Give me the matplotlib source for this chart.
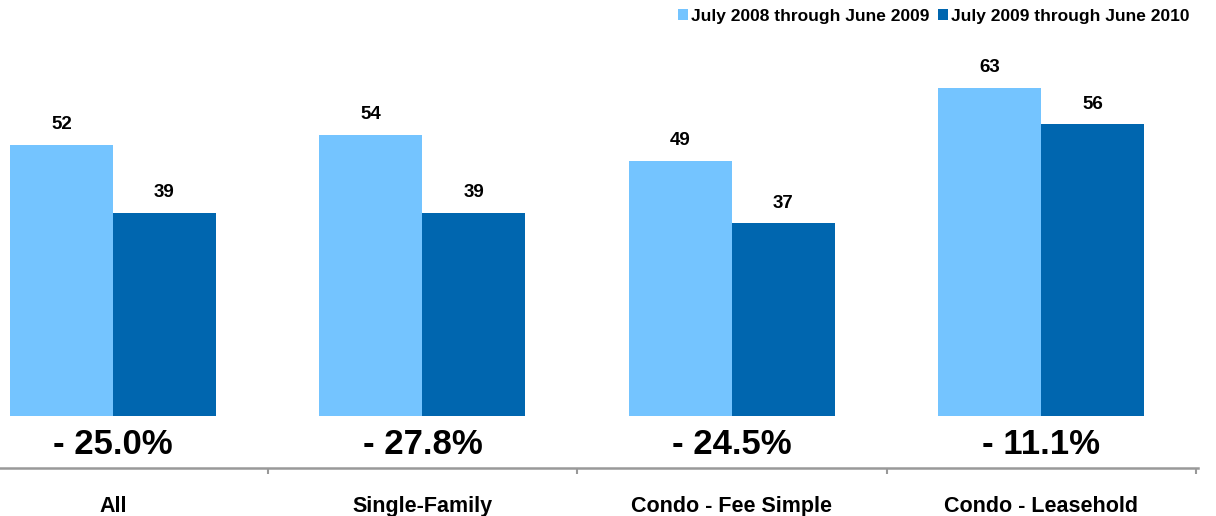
import matplotlib.pyplot as plt
import numpy as np

plt.rcParams['font.family'] = ['Liberation Sans', 'DejaVu Sans']

categories = ['All', 'Single-Family', 'Condo - Fee Simple', 'Condo - Leasehold']
period1 = [52, 54, 49, 63]
period2 = [39, 39, 37, 56]
changes = ['- 25.0%', '- 27.8%', '- 24.5%', '- 11.1%']
series_names = ['July 2008 through June 2009', 'July 2009 through June 2010']

c_light = '#74C4FF'
c_dark = '#0066AF'

fig = plt.figure(figsize=(12.16, 5.16), dpi=100)
ax = fig.add_axes([0, 48/516, 1198/1216, 468/516])

x = np.arange(len(categories))
w = 0.333
b1 = ax.bar(x - w/2, period1, w, color=c_light, label=series_names[0])
b2 = ax.bar(x + w/2, period2, w, color=c_dark, label=series_names[1])

for rects, vals in [(b1, period1), (b2, period2)]:
    for r, v in zip(rects, vals):
        ax.annotate(str(v), (r.get_x() + r.get_width()/2, v), xytext=(0, 8.5),
                    textcoords='offset points', ha='center', va='bottom',
                    fontsize=13.5, fontweight='bold')

for xi, ch in zip(x, changes):
    ax.text(xi, -5.5, ch, ha='center', va='center', fontsize=25, fontweight='bold')
    ax.text(xi, -17.3, categories[xi], ha='center', va='center', fontsize=15.5,
            fontweight='bold', clip_on=False)

ax.set_xlim(-0.365, 3.506)
ax.set_ylim(-10, 79.9)
for s in ['top', 'right', 'left']:
    ax.spines[s].set_visible(False)
ax.spines['bottom'].set_color('#999999')
ax.spines['bottom'].set_linewidth(1.8)
ax.set_yticks([])
ax.set_xticks(x + 0.5)
ax.set_xticklabels([])
ax.tick_params(axis='x', direction='out', length=4, width=1.5, color='#999999')

fig.legend(loc='upper right', bbox_to_anchor=(1205/1216, 1.013), ncol=2, frameon=False,
           handlelength=0.6, handleheight=0.6, handletextpad=0.15, columnspacing=0.5,
           prop={'weight': 'bold', 'size': 12.5})

fig.savefig('out.png', dpi=100)
